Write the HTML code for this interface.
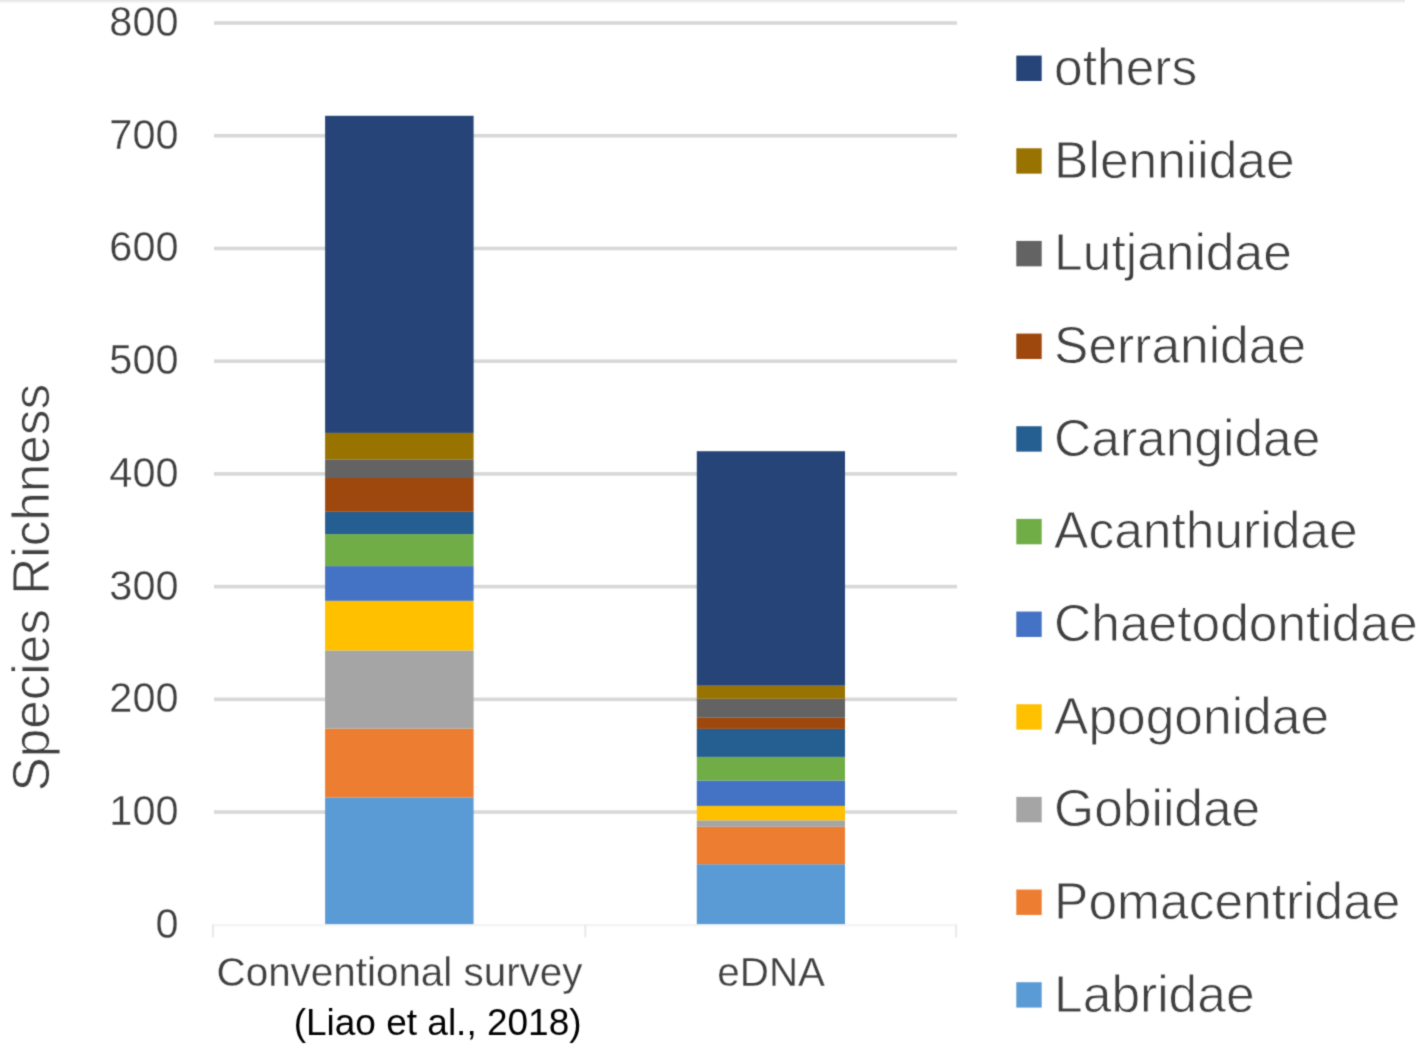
<!DOCTYPE html>
<html><head><meta charset="utf-8"><style>
html,body{margin:0;padding:0;background:#fff;width:1417px;height:1045px;overflow:hidden;position:relative}
text{font-family:"Liberation Sans",sans-serif;stroke:#fff;stroke-width:0.8px;}
.ax{font-size:41.5px;fill:#404040;stroke-width:0.3px}
.cat{font-size:40.4px;fill:#404040;stroke-width:0.3px}
.liao{font-size:37.0px;fill:#000;stroke-width:0px;stroke:none}
.yt{font-size:51.3px;fill:#404040}
.lg{font-size:51.5px;fill:#404040}
</style></head><body>
<svg width="1417" height="1045" viewBox="0 0 1417 1045" style="position:absolute;left:0;top:0;will-change:transform"><defs><filter id="bl" filterUnits="userSpaceOnUse" x="-10" y="-10" width="1437" height="1065" color-interpolation-filters="sRGB"><feConvolveMatrix order="3" kernelMatrix="0.02768 0.11101 0.02768 0.11101 0.44521 0.11101 0.02768 0.11101 0.02768" edgeMode="duplicate" preserveAlpha="true"/></filter></defs><g filter="url(#bl)"><rect x="-10" y="-10" width="1437" height="1065" fill="#fff"/><rect x="-10" y="-10" width="1415" height="11.5" fill="#e5e5e5"/><rect x="-10" y="1.5" width="1415" height="1.3" fill="#f2f2f2"/><rect x="214" y="810.27" width="743" height="3.6" fill="#d8d8d8"/><rect x="214" y="697.55" width="743" height="3.6" fill="#d8d8d8"/><rect x="214" y="584.83" width="743" height="3.6" fill="#d8d8d8"/><rect x="214" y="472.10" width="743" height="3.6" fill="#d8d8d8"/><rect x="214" y="359.37" width="743" height="3.6" fill="#d8d8d8"/><rect x="214" y="246.65" width="743" height="3.6" fill="#d8d8d8"/><rect x="214" y="133.92" width="743" height="3.6" fill="#d8d8d8"/><rect x="214" y="21.20" width="743" height="3.6" fill="#d8d8d8"/><rect x="212" y="924.0" width="745" height="2.4" fill="#f4f4f4"/><rect x="212.0" y="924.6" width="2" height="12.8" fill="#e9e9e9"/><rect x="584.3" y="924.6" width="2" height="12.8" fill="#e9e9e9"/><rect x="955.2" y="924.6" width="2" height="12.8" fill="#e9e9e9"/><rect x="325.1" y="797.40" width="148.50" height="126.70" fill="#5B9BD5"/><rect x="325.1" y="728.60" width="148.50" height="68.80" fill="#ED7D31"/><rect x="325.1" y="650.40" width="148.50" height="78.20" fill="#A5A5A5"/><rect x="325.1" y="600.80" width="148.50" height="49.60" fill="#FFC000"/><rect x="325.1" y="566.10" width="148.50" height="34.70" fill="#4472C4"/><rect x="325.1" y="534.10" width="148.50" height="32.00" fill="#70AD47"/><rect x="325.1" y="511.80" width="148.50" height="22.30" fill="#255E91"/><rect x="325.1" y="478.00" width="148.50" height="33.80" fill="#9E480E"/><rect x="325.1" y="459.30" width="148.50" height="18.70" fill="#636363"/><rect x="325.1" y="432.90" width="148.50" height="26.40" fill="#997300"/><rect x="325.1" y="115.80" width="148.50" height="317.10" fill="#264478"/><rect x="696.8" y="864.20" width="148.20" height="59.90" fill="#5B9BD5"/><rect x="696.8" y="826.80" width="148.20" height="37.40" fill="#ED7D31"/><rect x="696.8" y="820.30" width="148.20" height="6.50" fill="#A5A5A5"/><rect x="696.8" y="805.90" width="148.20" height="14.40" fill="#FFC000"/><rect x="696.8" y="780.50" width="148.20" height="25.40" fill="#4472C4"/><rect x="696.8" y="756.90" width="148.20" height="23.60" fill="#70AD47"/><rect x="696.8" y="728.90" width="148.20" height="28.00" fill="#255E91"/><rect x="696.8" y="717.80" width="148.20" height="11.10" fill="#9E480E"/><rect x="696.8" y="698.70" width="148.20" height="19.10" fill="#636363"/><rect x="696.8" y="685.70" width="148.20" height="13.00" fill="#997300"/><rect x="696.8" y="451.20" width="148.20" height="234.50" fill="#264478"/><text transform="translate(178.6,937.80) scale(1,1.035)" text-anchor="end" class="ax">0</text><text transform="translate(178.6,825.07) scale(1,1.035)" text-anchor="end" class="ax">100</text><text transform="translate(178.6,712.35) scale(1,1.035)" text-anchor="end" class="ax">200</text><text transform="translate(178.6,599.62) scale(1,1.035)" text-anchor="end" class="ax">300</text><text transform="translate(178.6,486.90) scale(1,1.035)" text-anchor="end" class="ax">400</text><text transform="translate(178.6,374.17) scale(1,1.035)" text-anchor="end" class="ax">500</text><text transform="translate(178.6,261.45) scale(1,1.035)" text-anchor="end" class="ax">600</text><text transform="translate(178.6,148.72) scale(1,1.035)" text-anchor="end" class="ax">700</text><text transform="translate(178.6,36.00) scale(1,1.035)" text-anchor="end" class="ax">800</text><text x="399.5" y="986.4" text-anchor="middle" class="cat">Conventional survey</text><text x="771.2" y="986.4" text-anchor="middle" class="cat">eDNA</text><text x="581.6" y="1035.2" text-anchor="end" class="liao">(Liao et al., 2018)</text><text transform="translate(48.9,587.7) rotate(-90)" text-anchor="middle" class="yt">Species Richness</text><rect x="1016.3" y="55.60" width="25.4" height="25.4" fill="#264478"/><text x="1054.1" y="85.00" class="lg">others</text><rect x="1016.3" y="148.26" width="25.4" height="25.4" fill="#997300"/><text x="1054.1" y="177.66" class="lg">Blenniidae</text><rect x="1016.3" y="240.92" width="25.4" height="25.4" fill="#636363"/><text x="1054.1" y="270.32" class="lg">Lutjanidae</text><rect x="1016.3" y="333.58" width="25.4" height="25.4" fill="#9E480E"/><text x="1054.1" y="362.98" class="lg">Serranidae</text><rect x="1016.3" y="426.24" width="25.4" height="25.4" fill="#255E91"/><text x="1054.1" y="455.64" class="lg">Carangidae</text><rect x="1016.3" y="518.90" width="25.4" height="25.4" fill="#70AD47"/><text x="1054.1" y="548.30" class="lg">Acanthuridae</text><rect x="1016.3" y="611.56" width="25.4" height="25.4" fill="#4472C4"/><text x="1054.1" y="640.96" class="lg">Chaetodontidae</text><rect x="1016.3" y="704.22" width="25.4" height="25.4" fill="#FFC000"/><text x="1054.1" y="733.62" class="lg">Apogonidae</text><rect x="1016.3" y="796.88" width="25.4" height="25.4" fill="#A5A5A5"/><text x="1054.1" y="826.28" class="lg">Gobiidae</text><rect x="1016.3" y="889.54" width="25.4" height="25.4" fill="#ED7D31"/><text x="1054.1" y="918.94" class="lg">Pomacentridae</text><rect x="1016.3" y="982.20" width="25.4" height="25.4" fill="#5B9BD5"/><text x="1054.1" y="1011.60" class="lg">Labridae</text></g></svg>
</body></html>
